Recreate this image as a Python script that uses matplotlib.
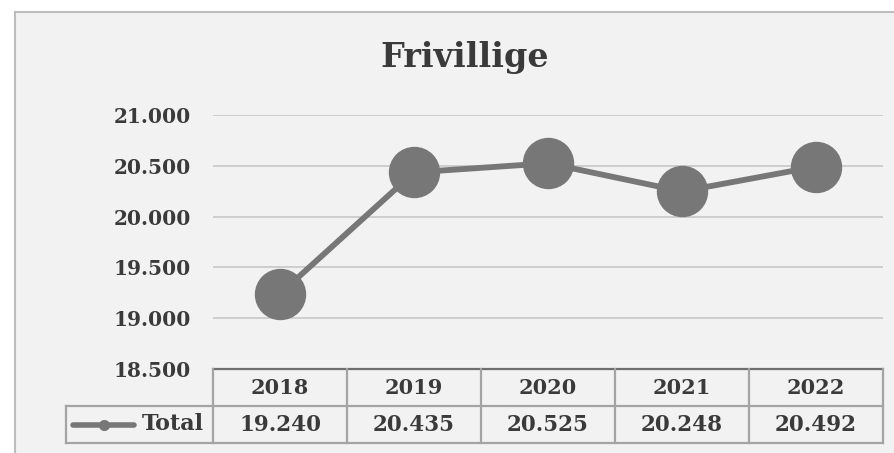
import matplotlib
matplotlib.use("Agg")
import matplotlib.pyplot as plt
from matplotlib.patches import Rectangle

# ── data ──────────────────────────────────────────────────────────────────────
title = "Frivillige"
years = ["2018", "2019", "2020", "2021", "2022"]
values = [19240, 20435, 20525, 20248, 20492]
series_name = "Total"
yticks = [18500, 19000, 19500, 20000, 20500, 21000]


def fmt(v):
    # danish thousands separator
    return f"{v:,}".replace(",", ".")


plt.rcParams.update({"font.family": "DejaVu Serif", "font.weight": "bold"})

W, H = 895, 453
fig = plt.figure(figsize=(W / 100, H / 100), dpi=100, facecolor="white")

line_col = "#777777"
text_col = "#3a3a3a"
cell_col = "#a4a4a4"

# chart area background with frame (behind the axes)
fig.patches.append(Rectangle((15 / W, -0.1), 1.0, 1.1 - 12 / H, transform=fig.transFigure,
                             facecolor="#f2f2f2", edgecolor="#bdbdbd", lw=1.5, zorder=-5))

# ── plot ──────────────────────────────────────────────────────────────────────
ax = fig.add_axes([213 / W, 1 - 369 / H, 670 / W, 254 / H])
ax.set_facecolor("none")
ax.set_xlim(-0.5, len(years) - 0.5)
ax.set_ylim(yticks[0], yticks[-1])
ax.set_yticks(yticks)
ax.set_yticklabels([fmt(t) for t in yticks], fontsize=14.5, color=text_col)
ax.set_xticks([])
ax.tick_params(axis="y", length=0, pad=16)
ax.yaxis.grid(True, color="#cdcdcd", lw=1.4)
ax.set_axisbelow(True)
for s in ["top", "right", "left"]:
    ax.spines[s].set_visible(False)
ax.spines["bottom"].set_color("#6e6e6e")
ax.spines["bottom"].set_linewidth(1.6)

ax.plot(range(len(years)), values, color=line_col, lw=4.2, marker="o", ms=36,
        mfc=line_col, mec=line_col, clip_on=False, zorder=3)

fig.text(465 / W, 1 - 58 / H, title, ha="center", va="center", fontsize=24,
         fontweight="bold", color=text_col)

# ── data table ────────────────────────────────────────────────────────────────
tax = fig.add_axes([66 / W, 1 - 443 / H, 817 / W, 74 / H])
tax.axis("off")
left = -0.5 - 147 / 134
tax.set_xlim(left, len(years) - 0.5)
tax.set_ylim(2, 0)

for i in range(len(years) + 1):
    tax.plot([i - 0.5, i - 0.5], [0, 2], color=cell_col, lw=1.6, clip_on=False)
tax.plot([left, left], [1, 2], color=cell_col, lw=1.6, clip_on=False)
for yy in [1, 2]:
    tax.plot([left, len(years) - 0.5], [yy, yy], color=cell_col, lw=1.6, clip_on=False)

for i, (yr, v) in enumerate(zip(years, values)):
    tax.text(i, 0.52, yr, ha="center", va="center", fontsize=15, color=text_col)
    tax.text(i, 1.52, fmt(v), ha="center", va="center", fontsize=15.5, color=text_col)

tax.text(-0.57, 1.5, series_name, ha="right", va="center", fontsize=16, color=text_col)
tax.plot([left + 0.05, left + 0.51], [1.5, 1.5], color=line_col, lw=4,
         solid_capstyle="round", clip_on=False)
tax.plot([left + 0.28], [1.5], marker="o", ms=7, color=line_col, clip_on=False)

fig.savefig("out.png", dpi=100, facecolor="white")
